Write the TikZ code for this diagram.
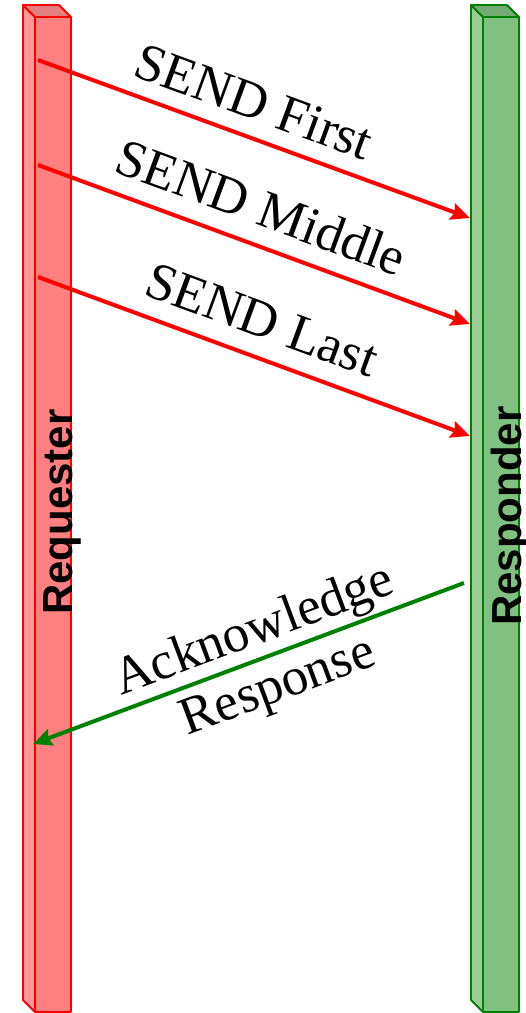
\documentclass[tikz,border=0pt]{standalone}
\usepackage{fontspec}
\setmainfont{Liberation Serif}
\newfontfamily\partyfont{Liberation Sans}
\usetikzlibrary{arrows.meta}

\definecolor{reqstroke}{RGB}{255,0,0}
\definecolor{reqfront}{RGB}{255,128,128}
\definecolor{reqside}{RGB}{255,153,153}
\definecolor{reqtop}{RGB}{230,128,128}
\definecolor{respstroke}{RGB}{0,128,0}
\definecolor{respfront}{RGB}{128,192,128}
\definecolor{respside}{RGB}{155,205,151}
\definecolor{resptop}{RGB}{115,173,115}
\definecolor{ackgreen}{RGB}{0,128,0}

\begin{document}
\begin{tikzpicture}[x=1pt,y=-1pt,
  face/.style={line width=1.8pt, line join=round},
  msg/.style={line width=4pt, -{Stealth[length=19pt,width=17pt,inset=3pt]}},
  msgtext/.style={font=\fontsize{53}{64}\selectfont, inner sep=0pt, anchor=base},
  partytext/.style={font=\partyfont\bfseries\fontsize{42}{50}\selectfont,
                    inner sep=0pt, anchor=base, rotate=90}]

\useasboundingbox (0,0) rectangle (526,1013);

% Requester lifeline (red cuboid)
\filldraw[face, draw=reqstroke, fill=reqside] (23,5) -- (35,17) -- (35,1012) -- (23,1000) -- cycle;
\filldraw[face, draw=reqstroke, fill=reqtop] (23,5) -- (59,5) -- (71,17) -- (35,17) -- cycle;
\filldraw[face, draw=reqstroke, fill=reqfront] (35,17) rectangle (71,1012);

% Responder lifeline (green cuboid)
\filldraw[face, draw=respstroke, fill=respside] (471,5) -- (483,17) -- (483,1012) -- (471,1000) -- cycle;
\filldraw[face, draw=respstroke, fill=resptop] (471,5) -- (507,5) -- (519,17) -- (483,17) -- cycle;
\filldraw[face, draw=respstroke, fill=respfront] (483,17) rectangle (519,1012);

% party names
\node[partytext] (reqname) at (72,512) {Requester};
\node[partytext] (respname) at (521,516) {Responder};

% message end points
\coordinate (f0) at (38,60);   \coordinate (f1) at (470,218);
\coordinate (m0) at (38,165);  \coordinate (m1) at (470,324);
\coordinate (l0) at (38,277);  \coordinate (l1) at (470,436);
\coordinate (a0) at (464,583); \coordinate (a1) at (33,744);

% messages
\draw[msg, reqstroke] (f0) -- (f1);
\draw[msg, reqstroke] (m0) -- (m1);
\draw[msg, reqstroke] (l0) -- (l1);
\draw[msg, ackgreen] (a0) -- (a1);

% message labels
\node[msgtext, rotate=-20.1] (first) at (248,118) {SEND First};
\node[msgtext, rotate=-20.2] (middle) at (255,224) {SEND Middle};
\node[msgtext, rotate=-20.2] (last) at (256,336) {SEND Last};
\node[msgtext, rotate=20.5] (ack) at (259,644) {Acknowledge};
\node[msgtext, rotate=20.5] (resp) at (283,700) {Response};
\end{tikzpicture}
\end{document}
